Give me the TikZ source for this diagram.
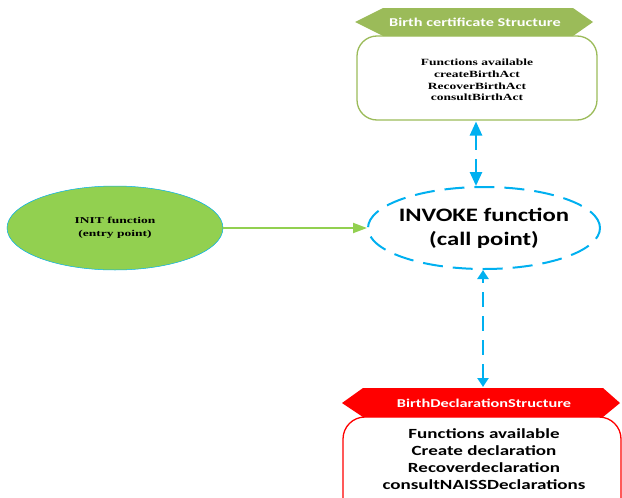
\documentclass[tikz,border=0pt]{standalone}
\usepackage{fontspec}
\setmainfont{Liberation Serif}
\newfontfamily\calwide[FakeStretch=1.36]{Carlito}
\newfontfamily\calinv[FakeStretch=1.3]{Carlito}
\newfontfamily\serwide[FakeStretch=1.42]{Liberation Serif}
\newfontfamily\serinit[FakeStretch=1.5]{Liberation Serif}
\usetikzlibrary{arrows.meta,shapes.geometric,shapes.misc}
\definecolor{hdrgreen}{HTML}{9BBB59}
\definecolor{ellgreen}{HTML}{92D050}
\definecolor{cyanb}{HTML}{00B0F0}
\begin{document}
\begin{tikzpicture}[x=1pt,y=-1pt,
  hdrtext/.style={text=white,font=\calwide\bfseries\fontsize{12}{14}\selectfont,inner sep=0},
  boxtext/.style={align=center,inner sep=0},
  dasharrow/.style={cyanb,line width=2.5pt,dash pattern=on 15pt off 9pt}
]
\useasboundingbox (0,0) rectangle (622,498);
\begin{scope}
\clip (0,0) rectangle (622,498);
% top structure
\fill[hdrgreen] (355,22) -- (383,8) -- (573,8) -- (593,22) -- (573,36) -- (383,36) -- cycle;
\node[hdrtext] (tophdr) at (475,22) {Birth certificate Structure};
\draw[hdrgreen,line width=1.3pt,rounded corners=20pt] (357,36) rectangle (597,120);
\node[boxtext,font=\serwide\bfseries\fontsize{9.5}{11.8}\selectfont] (topbox) at (477,80) {Functions available\\createBirthAct\\RecoverBirthAct\\consultBirthAct};
\coordinate (topbot) at (476,121.5);
% INIT
\node[ellipse,draw=cyanb,line width=0.5pt,fill=ellgreen,minimum width=216pt,minimum height=84pt,font=\serinit\bfseries\fontsize{9}{12.5}\selectfont,align=center] (init) at (115,228) {INIT function\\(entry point)};
% INVOKE
\node[ellipse,draw=cyanb,line width=2pt,dash pattern=on 20pt off 10pt,inner sep=0,minimum width=232pt,minimum height=82pt] (invoke) at (484,228) {};
\node[font=\calinv\bfseries\fontsize{19}{24}\selectfont,align=center,inner sep=0] (invoketext) at (invoke.center) {INVOKE function\\(call point)};
% bottom structure
\fill[red] (342,403) -- (363,388) -- (603,388) -- (620,403) -- (603,417) -- (363,417) -- cycle;
\node[hdrtext] (bothdr) at (484,403) {BirthDeclarationStructure};
\draw[red,line width=1.3pt,rounded corners=22pt] (343,417) rectangle (621,530);
\node[boxtext,font=\calwide\bfseries\fontsize{14}{17}\selectfont] (botbox) at (484,459) {Functions available\\Create declaration\\Recoverdeclaration\\consultNAISSDeclarations};
\coordinate (bottop) at (483,387);
\coordinate (invtop) at (476,186);
\coordinate (invbot) at (483,270);
\end{scope}
% connectors
\draw[ellgreen,line width=2pt,-{Triangle[width=10pt,length=14pt]}] (init.east) -- (invoke.west);
\draw[dasharrow,{Triangle[width=12pt,length=14pt]}-{Triangle[width=12pt,length=14pt]}] (topbot) -- (invtop);
\draw[dasharrow,{Triangle[width=11pt,length=9pt]}-{Triangle[width=11pt,length=9pt]}] (bottop) -- (invbot);
\end{tikzpicture}
\end{document}
